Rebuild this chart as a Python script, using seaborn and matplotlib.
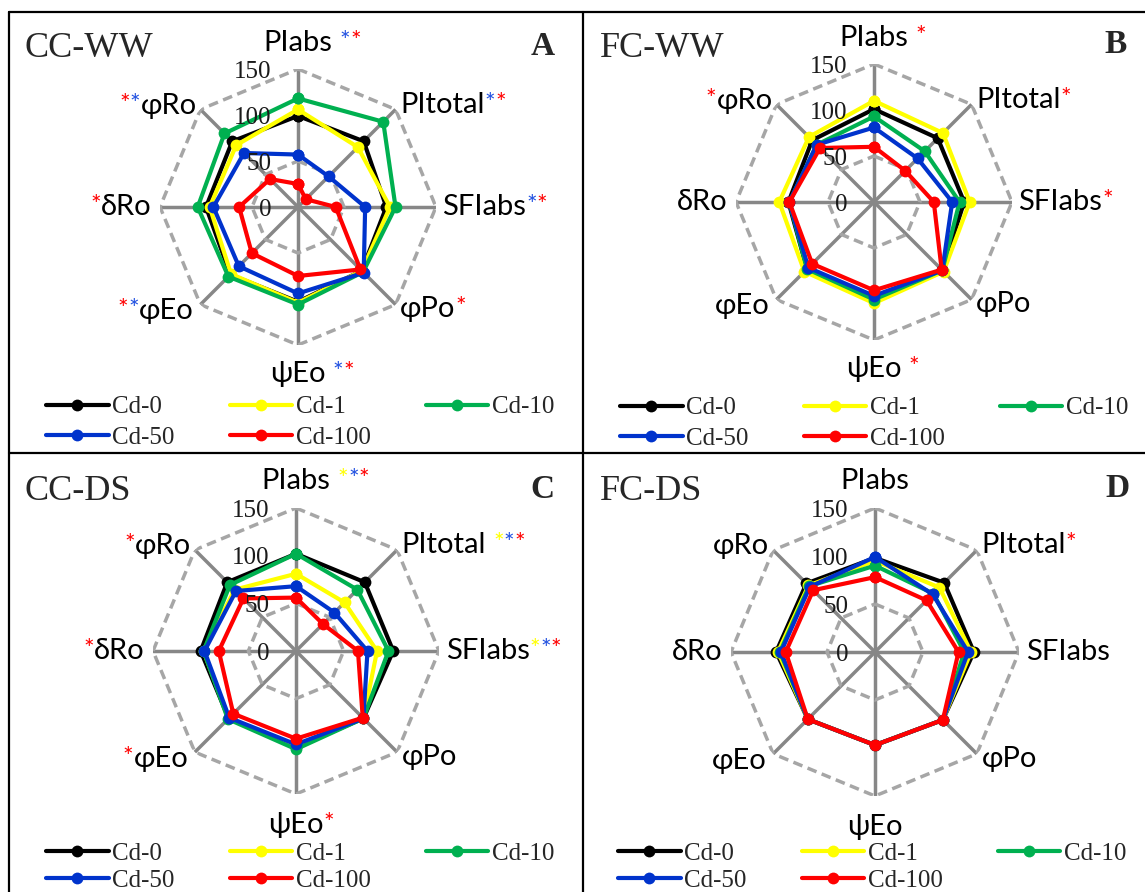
import matplotlib
matplotlib.use('Agg')
import numpy as np
import pandas as pd
import matplotlib.pyplot as plt
from matplotlib.lines import Line2D
import seaborn as sns

# axis names, clockwise from the top
params = ['PIabs', 'PItotal', 'SFIabs', 'φPo', 'ψEo', 'φEo', 'δRo', 'φRo']
treatments = ['Cd-0', 'Cd-1', 'Cd-10', 'Cd-50', 'Cd-100']
colors = ['#000000', '#FFFF00', '#00B050', '#0033CC', '#FF0000']

# values (% of control), one row per treatment, columns in params order
cc_ww = [[99, 101, 96, 98, 103, 104, 100, 101],
         [106, 92, 100, 98, 104, 103, 96, 95],
         [118, 131, 106, 100, 106, 107, 109, 113],
         [57, 47, 73, 101, 94, 91, 92, 83],
         [25, 12, 41, 96, 75, 71, 64, 43]]
fc_ww = [[101, 98, 98, 105, 104, 103, 93, 95],
         [110, 106, 104, 107, 110, 107, 103, 100],
         [93, 78, 93, 105, 106, 103, 92, 88],
         [81, 67, 85, 105, 102, 101, 92, 88],
         [60, 48, 65, 104, 96, 95, 92, 83]]
cc_ds = [[102, 102, 102, 100, 101, 100, 100, 102],
         [81, 72, 85, 100, 100, 100, 97, 91],
         [102, 91, 97, 100, 103, 101, 97, 98],
         [68, 57, 75, 100, 98, 99, 96, 89],
         [56, 40, 65, 99, 92, 93, 81, 78]]
fc_ds = [[98, 102, 103, 100, 97, 99, 103, 101],
         [95, 95, 100, 100, 97, 99, 101, 98],
         [90, 86, 93, 100, 97, 99, 99, 97],
         [99, 85, 97, 100, 97, 99, 98, 96],
         [78, 76, 87, 100, 97, 99, 93, 91]]

panel_titles = ['CC-WW', 'FC-WW', 'CC-DS', 'FC-DS']
panel_letters = ['A', 'B', 'C', 'D']
ring_ticks = [0, 50, 100, 150]
ring_lines = [50, 150]

# significance asterisks: (before label, after label); y/b/r = colour, ' ' = gap
stars_cc_ww = {'PIabs': ('', ' br'), 'PItotal': ('', 'br'), 'SFIabs': ('', 'br'),
               'φPo': ('', 'r'), 'ψEo': ('', ' br'), 'φEo': ('rb', ''),
               'δRo': ('r', ''), 'φRo': ('rb', '')}
stars_fc_ww = {'PIabs': ('', ' r'), 'PItotal': ('', 'r'), 'SFIabs': ('', 'r'),
               'ψEo': ('', ' r'), 'φRo': ('r', '')}
stars_cc_ds = {'PIabs': ('', ' ybr'), 'PItotal': ('', ' ybr'), 'SFIabs': ('', 'ybr'),
               'ψEo': ('', 'r'), 'φEo': ('r', ''), 'δRo': ('r', ''), 'φRo': ('r', '')}
stars_fc_ds = {'PItotal': ('', 'r')}
star_colors = {'y': '#FFFF00', 'b': '#1F4FE0', 'r': '#FF0000'}

W, H = 1145, 892
# panel geometry in pixels: centre x, centre y, radius of the 150 ring
geometry = [(298, 207, 138), (874, 202, 138), (296, 651, 143), (875, 652, 144)]
title_pos = [(24, 57), (600, 57), (24, 500), (600, 500)]
letter_pos = [(555, 55), (1127, 53), (555, 498), (1130, 497)]
legend_pos = [(46, 396, 0.32), (620, 397, 0.32), (46, 842, 0.2), (618, 842, 0.2)]

sns.set_theme(style='white')
LABEL_FONT = ['Lato', 'Noto Sans', 'DejaVu Sans']
SERIF = ['Liberation Serif', 'DejaVu Serif']
plt.rcParams['font.family'] = SERIF

# label placement: theta index -> radius, ha, va
label_place = [(178, 'center', 'center'), (157, 'left', 'center'), (157, 'left', 'center'),
               (157, 'left', 'center'), (182, 'center', 'center'), (160, 'right', 'center'),
               (159, 'right', 'center'), (156, 'right', 'center')]


def add_label(ax, theta, r, text, ha, va, pre, post):
    t = ax.text(theta, r, text, ha=ha, va=va, fontsize=21, family=LABEL_FONT, color='black')
    prev, gap = t, 0
    for ch in post:
        if ch == ' ':
            gap = 5
            continue
        prev = ax.annotate('*', xy=(1, 1), xycoords=prev, xytext=(gap, 0),
                           textcoords='offset points', ha='left', va='top',
                           color=star_colors[ch], fontsize=18, family=LABEL_FONT)
        gap = 0
    prev = t
    for ch in reversed(pre):
        prev = ax.annotate('*', xy=(0, 1), xycoords=prev, xytext=(0, 0),
                           textcoords='offset points', ha='right', va='top',
                           color=star_colors[ch], fontsize=18, family=LABEL_FONT)


fig = plt.figure(figsize=(W / 100, H / 100), dpi=100)
fig.patch.set_facecolor('white')

angles = np.linspace(0, 2 * np.pi, len(params), endpoint=False)
closed = np.append(angles, 2 * np.pi)

datasets = [cc_ww, fc_ww, cc_ds, fc_ds]
all_stars = [stars_cc_ww, stars_fc_ww, stars_cc_ds, stars_fc_ds]

for i, data in enumerate(datasets):
    cx, cy, R = geometry[i]
    ax = fig.add_axes([(cx - R) / W, (H - cy - R) / H, 2 * R / W, 2 * R / H],
                      projection='polar')
    ax.set_theta_zero_location('N')
    ax.set_theta_direction(-1)
    ax.set_facecolor('none')

    # spokes and dashed rings
    for a in angles:
        ax.plot([a, a], [0, 150], color='#878787', lw=2.5, zorder=1)
    for rv in ring_lines:
        ax.plot(closed, [rv] * len(closed), color='#A6A6A6', lw=2.5,
                ls=(0, (2.8, 1.6)), zorder=1)

    rows = []
    for tname, vals in zip(treatments, data):
        vv = list(vals) + [vals[0]]
        for th, v in zip(closed, vv):
            rows.append({'theta': th, 'value': v, 'treatment': tname})
    df = pd.DataFrame(rows)
    sns.lineplot(data=df, x='theta', y='value', hue='treatment', hue_order=treatments,
                 palette=colors, sort=False, estimator=None, marker='o', markersize=8.5,
                 markeredgewidth=0, linewidth=3, legend=False, ax=ax, zorder=3)

    ax.set_ylim(0, 150)
    ax.set_xticks([])
    ax.set_yticks([])
    ax.grid(False)
    ax.spines['polar'].set_visible(False)
    ax.set_xlabel('')
    ax.set_ylabel('')

    for v in ring_ticks:
        ax.annotate(str(v), xy=(0, v), xycoords='data', xytext=(-19, -2),
                    textcoords='offset points', ha='right', va='center',
                    fontsize=18, family=SERIF, color='#1a1a1a', annotation_clip=False)

    stars = all_stars[i]
    for k, (name, th) in enumerate(zip(params, angles)):
        r, ha, va = label_place[k]
        pre, post = stars.get(name, ('', ''))
        add_label(ax, th, r, name, ha, va, pre, post)

    tx, ty = title_pos[i]
    fig.text(tx / W, 1 - ty / H, panel_titles[i], fontsize=26, family=SERIF,
             ha='left', va='baseline')
    lx, ly = letter_pos[i]
    fig.text(lx / W, 1 - ly / H, panel_letters[i], fontsize=24, family=SERIF,
             fontweight='bold', ha='right', va='baseline')

    handles = [Line2D([], [], color=c, lw=3, marker='o', ms=8.5, mew=0) for c in colors]
    order = [0, 3, 1, 4, 2]
    gx, gy, lsp = legend_pos[i]
    fig.legend([handles[j] for j in order], [treatments[j] for j in order], ncol=3,
               loc='upper left', bbox_to_anchor=(gx / W, 1 - gy / H), frameon=False,
               handlelength=2.5, handletextpad=0.15, columnspacing=2.2, labelspacing=lsp,
               borderpad=0, borderaxespad=0, numpoints=1,
               prop={'family': SERIF, 'size': 18})

# panel frame lines
frame = [((9, 9), (12, H)), ((9, W), (12, 12)), ((583, 583), (12, H)), ((9, W), (453, 453))]
for xs, ys in frame:
    fig.add_artist(Line2D([x / W for x in xs], [1 - y / H for y in ys],
                          color='black', lw=1.6))

fig.savefig('out.png', dpi=100)
